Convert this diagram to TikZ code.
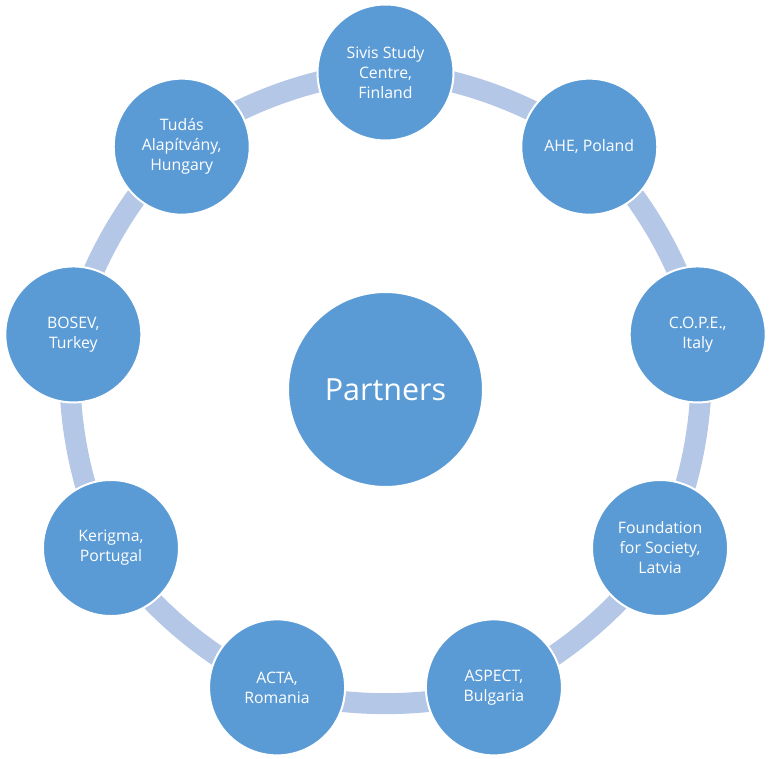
\documentclass[tikz,border=0pt]{standalone}
\usepackage{fontspec}
\setmainfont{Open Sans}
\usepackage{xcolor}
\usepackage{tikz}
\usetikzlibrary{backgrounds}

\definecolor{partnerblue}{HTML}{5B9BD5}
\definecolor{ringblue}{HTML}{B4C7E7}

\begin{document}
\begin{tikzpicture}[
    x=1pt, y=1pt,
    partner/.style={
        circle,
        fill=partnerblue,
        draw=white,
        line width=2pt,
        minimum size=136pt,
        inner sep=0pt,
        align=center,
        text=white,
        font=\fontsize{15.8}{20}\selectfont
    },
    hub/.style={
        partner,
        minimum size=195pt,
        font=\fontsize{30.5}{36}\selectfont
    },
    band/.style={
        ringblue,
        line width=21pt,
        looseness=0.75
    }
]
\useasboundingbox (-385.5,-368.5) rectangle (389.5,389.5);

\node[hub] (partners) at (0,0) {Partners};

\node[partner] (sivis) at (90:317) {Sivis Study\\Centre,\\Finland};
\node[partner] (ahe) at (50:317) {AHE, Poland};
\node[partner] (cope) at (10:317) {C.O.P.E.,\\Italy};
\node[partner] (foundation) at (-30:317) {Foundation\\for Society,\\Latvia};
\node[partner] (aspect) at (-70:317) {ASPECT,\\Bulgaria};
\node[partner] (acta) at (-110:317) {ACTA,\\Romania};
\node[partner] (kerigma) at (-150:317) {Kerigma,\\Portugal};
\node[partner] (bosev) at (170:317) {BOSEV,\\Turkey};
\node[partner] (tudas) at (130:317) {Tudás\\Alapítvány,\\Hungary};

\begin{scope}[on background layer]
\draw[band] (sivis.center) to[bend left=20] (ahe.center);
\draw[band] (ahe.center) to[bend left=20] (cope.center);
\draw[band] (cope.center) to[bend left=20] (foundation.center);
\draw[band] (foundation.center) to[bend left=20] (aspect.center);
\draw[band] (aspect.center) to[bend left=20] (acta.center);
\draw[band] (acta.center) to[bend left=20] (kerigma.center);
\draw[band] (kerigma.center) to[bend left=20] (bosev.center);
\draw[band] (bosev.center) to[bend left=20] (tudas.center);
\draw[band] (tudas.center) to[bend left=20] (sivis.center);
\end{scope}

\end{tikzpicture}
\end{document}
